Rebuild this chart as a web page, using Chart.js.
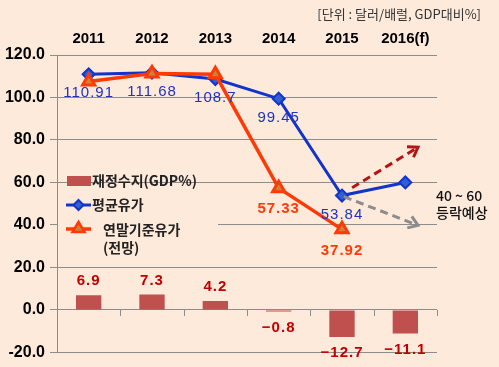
<!DOCTYPE html>
<html>
<head>
    <meta charset="UTF-8">
    <title>유가 및 재정수지</title>
    <script src="https://cdn.jsdelivr.net/npm/chart.js"></script>
    <style>
        body {
            margin: 0;
            background-color: #fdeadb;
        }
        #wrap {
            width: 499px;
            height: 367px;
        }
    </style>
</head>
<body>
    <div id="wrap"><canvas id="oilChart"></canvas></div>

    <script>
        const years = ['2011', '2012', '2013', '2014', '2015', '2016(f)'];
        const fiscalBalance = [6.9, 7.3, 4.2, -0.8, -12.7, -11.1];
        const avgOilPrice = [110.91, 111.68, 108.7, 99.45, 53.84, 60];
        const yearEndOilPrice = [107.5, 111.3, 110.9, 57.33, 37.92, null];
        const avgLabelShown = [true, true, true, true, true, false];
        const yearEndLabelShown = [false, false, false, true, true, false];
        const yTicks = [-20, 0, 20, 40, 60, 80, 100, 120];
        // forecast arrows after 2015 (category index, value)
        const upArrowX = [4.16, 5.2];
        const upArrowY = [57.5, 76.6];
        const downArrowX = [4.03, 5.2];
        const downArrowY = [53.3, 39.8];

        const bg = '#fdeadb';
        const barColor = '#c0504d';
        const blue = '#1234c8';
        const orange = '#ff3a06';
        const numFont = '"Liberation Sans", Arial, sans-serif';
        const krFont = '"Noto Sans CJK KR", sans-serif';

        const backgroundPlugin = {
            id: 'bgFill',
            beforeDraw(chart) {
                const c = chart.ctx;
                c.save();
                c.fillStyle = bg;
                c.fillRect(0, 0, chart.width, chart.height);
                c.restore();
            }
        };

        function drawArrow(c, x1, y1, x2, y2, color) {
            c.save();
            c.strokeStyle = color;
            c.lineWidth = 3;
            c.setLineDash([8, 5]);
            c.beginPath();
            c.moveTo(x1, y1);
            c.lineTo(x2, y2);
            c.stroke();
            c.setLineDash([]);
            const a = Math.atan2(y2 - y1, x2 - x1);
            const len = 11;
            c.beginPath();
            c.moveTo(x2 - len * Math.cos(a - 0.6), y2 - len * Math.sin(a - 0.6));
            c.lineTo(x2, y2);
            c.lineTo(x2 - len * Math.cos(a + 0.6), y2 - len * Math.sin(a + 0.6));
            c.stroke();
            c.restore();
        }

        const decorPlugin = {
            id: 'decor',
            beforeDatasetsDraw(chart) {
                const c = chart.ctx;
                const area = chart.chartArea;
                const x = chart.scales.x;
                const y = chart.scales.y;

                // x axis line ticks at zero
                const y0 = y.getPixelForValue(0);
                c.save();
                c.strokeStyle = '#8c8c8c';
                c.lineWidth = 1;
                c.beginPath();
                for (let i = 0; i < years.length; i++) {
                    const px = Math.round(x.getPixelForValue(i + 0.5)) + 0.5;
                    c.moveTo(px, y0);
                    c.lineTo(px, y0 + 6);
                }
                c.stroke();

                // legend box
                const lx = area.left;
                c.fillStyle = bg;
                c.fillRect(lx + 1, 194, 160, 62);

                c.fillStyle = barColor;
                c.fillRect(lx + 10, 176, 24, 10);

                c.strokeStyle = blue;
                c.lineWidth = 3;
                c.beginPath();
                c.moveTo(lx + 9, 205);
                c.lineTo(lx + 34, 205);
                c.stroke();
                c.fillStyle = '#2f5fd0';
                c.lineWidth = 2;
                c.beginPath();
                c.moveTo(lx + 21.5, 200);
                c.lineTo(lx + 26.5, 205);
                c.lineTo(lx + 21.5, 210);
                c.lineTo(lx + 16.5, 205);
                c.closePath();
                c.fill();
                c.stroke();

                c.strokeStyle = orange;
                c.lineWidth = 3.5;
                c.beginPath();
                c.moveTo(lx + 9, 229);
                c.lineTo(lx + 34, 229);
                c.stroke();
                c.fillStyle = '#c8843c';
                c.lineWidth = 2.5;
                c.beginPath();
                c.moveTo(lx + 21.5, 222);
                c.lineTo(lx + 27.5, 232);
                c.lineTo(lx + 15.5, 232);
                c.closePath();
                c.fill();
                c.stroke();

                c.fillStyle = '#222';
                c.font = 'bold 14px ' + krFont;
                c.textAlign = 'left';
                c.textBaseline = 'middle';
                c.fillText('재정수지(GDP%)', lx + 35, 181);
                c.fillText('평균유가', lx + 35, 205);
                c.fillText('연말기준유가', lx + 46, 230);
                c.fillText('(전망)', lx + 46, 248);
                c.restore();
            },
            afterDatasetsDraw(chart) {
                const c = chart.ctx;
                const x = chart.scales.x;
                const y = chart.scales.y;

                c.save();
                c.textAlign = 'center';
                c.textBaseline = 'middle';
                c.letterSpacing = '1px';

                // bar labels
                c.font = 'bold 15px ' + numFont;
                c.fillStyle = '#c00000';
                chart.getDatasetMeta(0).data.forEach((el, i) => {
                    const v = fiscalBalance[i];
                    const ty = v >= 0 ? el.y - 14 : el.y + 16;
                    c.fillText(v.toFixed(1).replace('-', '−'), el.x, ty);
                });

                // average price labels
                c.font = '15px ' + numFont;
                c.fillStyle = '#2032c0';
                chart.getDatasetMeta(1).data.forEach((el, i) => {
                    if (!avgLabelShown[i]) return;
                    c.fillText(String(avgOilPrice[i]), el.x, el.y + 19);
                });

                // year-end price labels
                c.font = 'bold 15px ' + numFont;
                c.fillStyle = orange;
                chart.getDatasetMeta(2).data.forEach((el, i) => {
                    if (!yearEndLabelShown[i]) return;
                    c.fillText(yearEndOilPrice[i].toFixed(2), el.x, el.y + 21);
                });
                c.letterSpacing = '0px';

                // forecast arrows
                drawArrow(c,
                    x.getPixelForValue(upArrowX[0]), y.getPixelForValue(upArrowY[0]),
                    x.getPixelForValue(upArrowX[1]), y.getPixelForValue(upArrowY[1]),
                    '#b41414');
                drawArrow(c,
                    x.getPixelForValue(downArrowX[0]), y.getPixelForValue(downArrowY[0]),
                    x.getPixelForValue(downArrowX[1]), y.getPixelForValue(downArrowY[1]),
                    '#8c8c8c');

                c.fillStyle = '#111';
                c.textAlign = 'left';
                c.font = '500 14px ' + krFont;
                c.fillText('40 ~ 60', 436, 196);
                c.fillText('등락예상', 436, 213);

                c.textAlign = 'right';
                c.font = '13px ' + krFont;
                c.fillStyle = '#333';
                c.fillText('[단위 : 달러/배럴, GDP대비%]', 481, 14);
                c.restore();
            }
        };

        const ctx = document.getElementById('oilChart').getContext('2d');
        const oilChart = new Chart(ctx, {
            data: {
                labels: years,
                datasets: [
                    {
                        type: 'bar',
                        label: '재정수지(GDP%)',
                        data: fiscalBalance,
                        backgroundColor: barColor,
                        categoryPercentage: 1,
                        barPercentage: 0.4,
                        order: 3
                    },
                    {
                        type: 'line',
                        label: '평균유가',
                        data: avgOilPrice,
                        borderColor: blue,
                        borderWidth: 3,
                        pointStyle: 'rectRot',
                        pointRadius: 6,
                        pointBackgroundColor: '#2f5fd0',
                        pointBorderColor: blue,
                        pointBorderWidth: 2,
                        tension: 0,
                        order: 2
                    },
                    {
                        type: 'line',
                        label: '연말기준유가(전망)',
                        data: yearEndOilPrice,
                        borderColor: orange,
                        borderWidth: 3.5,
                        pointStyle: 'triangle',
                        pointRadius: 7,
                        pointBackgroundColor: '#c8843c',
                        pointBorderColor: orange,
                        pointBorderWidth: 3,
                        tension: 0,
                        order: 1
                    }
                ]
            },
            options: {
                responsive: true,
                maintainAspectRatio: false,
                animation: false,
                layout: {
                    padding: { top: 0, right: 62, bottom: 13, left: 0 }
                },
                scales: {
                    x: {
                        position: 'top',
                        offset: true,
                        grid: { display: false, drawTicks: false },
                        border: { display: false },
                        ticks: {
                            color: '#000',
                            padding: 7,
                            maxRotation: 0,
                            font: { family: numFont, size: 15, weight: 'bold' }
                        },
                        afterFit(scale) { scale.height = 55; }
                    },
                    y: {
                        min: -20,
                        max: 120,
                        afterBuildTicks(scale) {
                            scale.ticks = yTicks.map(v => ({ value: v }));
                        },
                        grid: {
                            color: '#8c8c8c',
                            lineWidth: 1,
                            tickLength: 7
                        },
                        border: { display: true, color: '#8c8c8c' },
                        ticks: {
                            color: '#000',
                            padding: 5,
                            font: { family: numFont, size: 16, weight: 'bold' },
                            callback: v => v.toFixed(1)
                        },
                        afterFit(scale) { scale.width = 57; }
                    }
                },
                plugins: {
                    legend: { display: false },
                    tooltip: { enabled: false }
                }
            },
            plugins: [backgroundPlugin, decorPlugin]
        });
    </script>
</body>
</html>
